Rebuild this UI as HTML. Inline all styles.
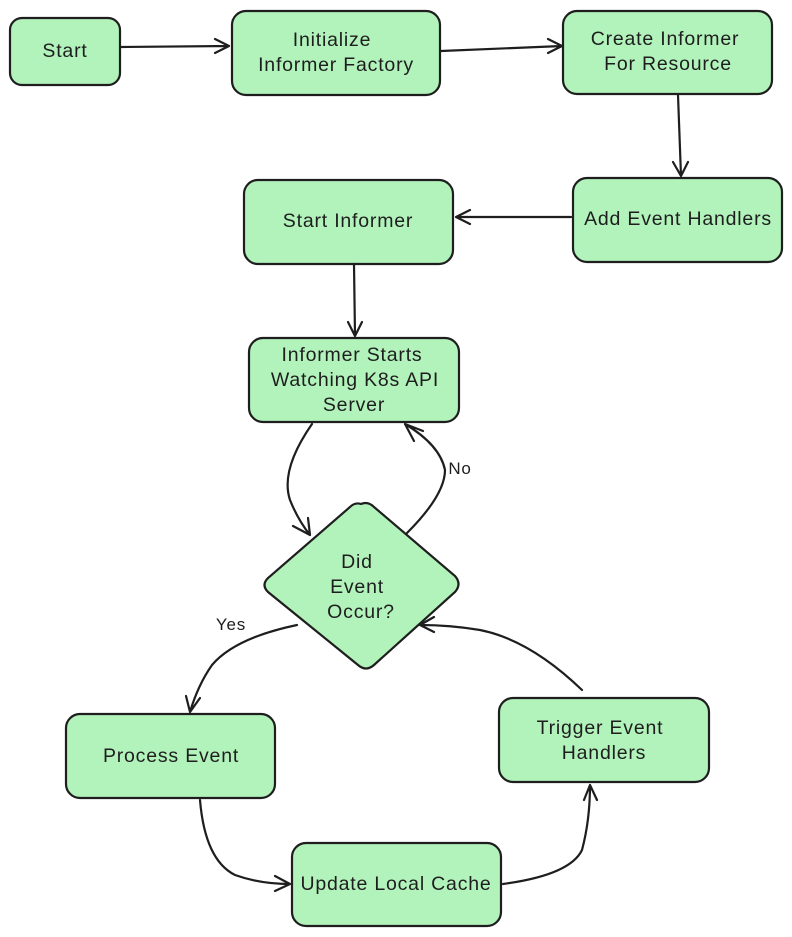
<!DOCTYPE html>
<html><head><meta charset="utf-8"><style>
html,body{margin:0;padding:0;background:#fff;}
svg{display:block;}
text{font-family:"Liberation Sans",sans-serif;font-size:19.5px;letter-spacing:0.8px;fill:#1e1e1e;text-anchor:middle;}
.b{fill:#b2f2bb;stroke:#1e1e1e;stroke-width:2.2;}
.a{fill:none;stroke:#1e1e1e;stroke-width:2.2;stroke-linecap:round;stroke-linejoin:round;}
</style></head><body>
<svg width="792" height="937" viewBox="0 0 792 937" xmlns="http://www.w3.org/2000/svg">
<rect class="b" x="10" y="18" width="110" height="67" rx="12"/>
<text x="65" y="57">Start</text>
<rect class="b" x="232" y="11" width="208" height="84" rx="14"/>
<text x="332" y="46">Initialize</text><text x="336" y="71">Informer Factory</text>
<rect class="b" x="563" y="11" width="209" height="83" rx="14"/>
<text x="665" y="45">Create Informer</text><text x="668" y="70">For Resource</text>
<rect class="b" x="573" y="178" width="209" height="84" rx="14"/>
<text x="678" y="225">Add Event Handlers</text>
<rect class="b" x="244" y="180" width="209" height="84" rx="14"/>
<text x="348" y="227">Start Informer</text>
<rect class="b" x="249" y="338" width="210" height="84" rx="14"/>
<text x="352" y="361">Informer Starts</text><text x="355" y="386">Watching K8s API</text><text x="354" y="411">Server</text>
<path class="b" d="M361 504 Q368 501 374 507 L455 576 Q462 584 455 592 L374 665 Q366 672 358 665 L268 592 Q261 585 268 578 L350 507 Q355 502 361 504Z"/>
<text x="357" y="568">Did</text><text x="357" y="593">Event</text><text x="361" y="618">Occur?</text>
<rect class="b" x="66" y="714" width="209" height="84" rx="14"/>
<text x="171" y="762">Process Event</text>
<rect class="b" x="499" y="698" width="210" height="84" rx="14"/>
<text x="600" y="734">Trigger Event</text><text x="604" y="759">Handlers</text>
<rect class="b" x="292" y="843" width="209" height="83" rx="14"/>
<text x="396" y="890">Update Local Cache</text>
<text x="460" y="474" style="font-size:17px">No</text>
<text x="231" y="630" style="font-size:17px">Yes</text>
<path class="a" d="M121 47 L229 46 M215 39 L229 46 L215 53"/>
<path class="a" d="M441 51 L562 46 M548 39 L562 46 L548 53"/>
<path class="a" d="M678 95 L681 176 M673 162 L681 176 L688 162"/>
<path class="a" d="M571 217 L456 217 M470 210 L456 217 L470 224"/>
<path class="a" d="M354 264 L355 336 M348 322 L355 336 L362 322"/>
<path class="a" d="M312 424 Q280 470 290 500 Q298 520 310 535 M293 526 L310 535 L308 518"/>
<path class="a" d="M407 533 Q445 495 445 470 Q440 445 405 424 M414 441 L405 424 L423 431"/>
<path class="a" d="M297 625 Q235 638 212 665 Q198 685 190 712 M186 696 L190 712 L200 698"/>
<path class="a" d="M200 800 Q205 860 235 875 Q260 884 290 884 M275 876 L290 884 L275 891"/>
<path class="a" d="M503 884 Q570 875 582 850 Q590 820 590 785 M584 800 L590 785 L597 800"/>
<path class="a" d="M582 690 Q530 640 480 630 Q450 625 420 625 M434 617 L420 625 L434 632"/>
</svg>
</body></html>
